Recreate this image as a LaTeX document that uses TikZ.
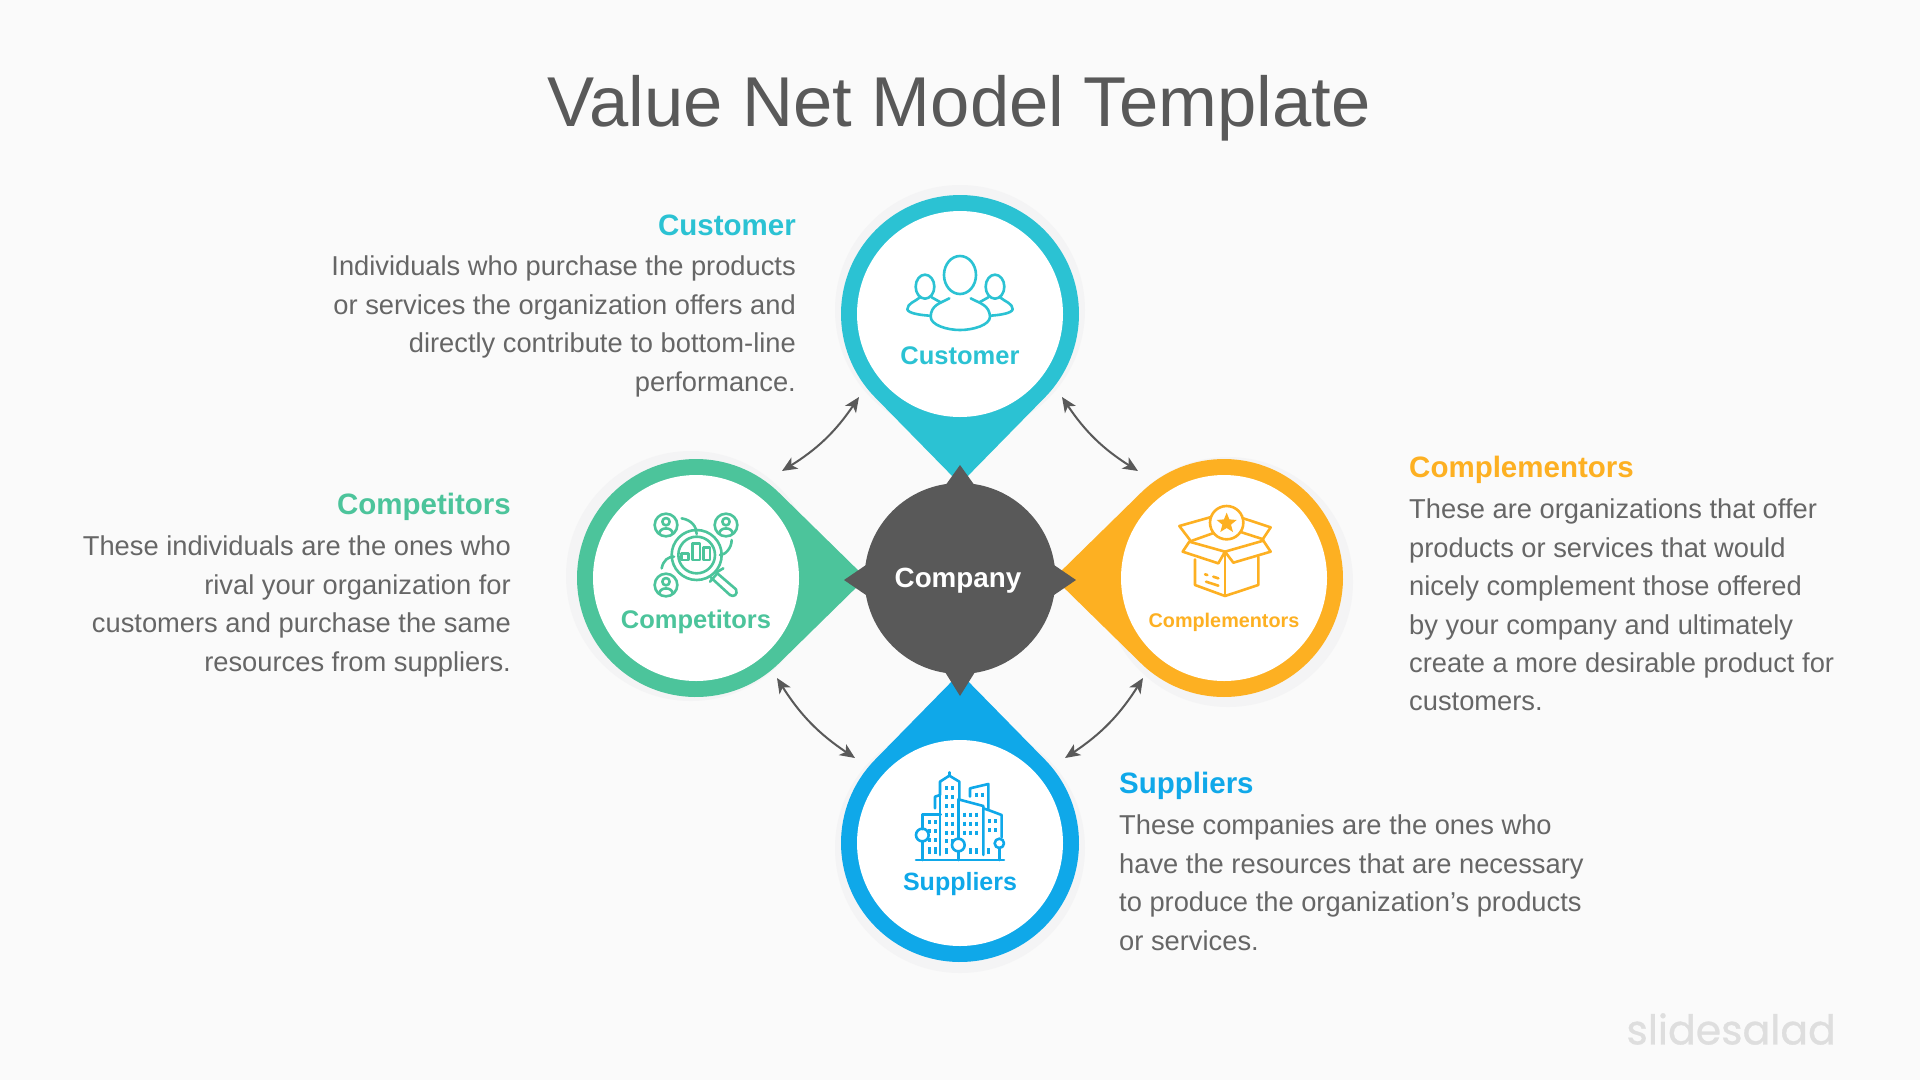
\documentclass[tikz,border=0pt]{standalone}
\usepackage{fontspec}
\setmainfont{Liberation Sans}
\newfontfamily\markfont[FakeBold=0.7]{Poppins}
\definecolor{bgc}{HTML}{FAFAFA}
\definecolor{shadowc}{HTML}{F4F4F5}
\definecolor{dark}{HTML}{595959}
\definecolor{bodyc}{HTML}{666666}
\definecolor{teal}{HTML}{2BC2D3}
\definecolor{greenc}{HTML}{4CC49B}
\definecolor{orangec}{HTML}{FDB022}
\definecolor{bluec}{HTML}{0FA8E9}
\definecolor{markc}{HTML}{DEDEDE}
\usetikzlibrary{arrows.meta}
\tikzset{
  inner/.style={circle,fill=white,minimum size=206pt,inner sep=0pt},
  pinlabel/.style={font=\bfseries\fontsize{#1}{#1}\selectfont,inner sep=0pt},
  heading/.style={font=\bfseries\fontsize{29.5}{32}\selectfont,inner sep=0pt},
  para/.style={font=\fontsize{27.3}{38.4}\selectfont,text=bodyc,inner sep=0pt},
  conn/.style={draw=dark,line width=2pt,{Stealth[length=15pt,width=13pt,inset=4pt]}-{Stealth[length=15pt,width=13pt,inset=4pt]}},
  ico/.style={line width=2.6pt,line cap=round,line join=round},
  zoomed/.style={shift={#1},x=0.33333pt,y=-0.33333pt},
}
% centre x, centre y, direction of tip (clockwise from right on screen), colour, shadow dx, shadow dy
\newcommand{\pinshape}[6]{%
  \fill[shadowc] (#1+#5,#2+#6) circle[radius=125];
  \begin{scope}[shift={(#1,#2)}]
    \fill[#4] (#3:170) -- (#3+45.6:119) arc[start angle=#3+45.6,delta angle=268.8,radius=119] -- cycle;
  \end{scope}}
\begin{document}
\begin{tikzpicture}[x=1pt,y=-1pt]
\useasboundingbox (0,0) rectangle (1920,1080);
\fill[bgc] (0,0) rectangle (1920,1080);

\node[inner sep=0pt,font=\fontsize{70.6}{72}\selectfont,text=dark] (title) at (959,108) {Value Net Model Template};

% pins
\pinshape{960}{314}{90}{teal}{0}{-4}
\pinshape{696}{578}{0}{greenc}{-5}{-2}
\pinshape{1224}{578}{180}{orangec}{4}{4}
\pinshape{960}{843}{270}{bluec}{0}{5}

\node[inner] (customer) at (960,314) {};
\node[inner] (competitors) at (696,578) {};
\node[inner] (complementors) at (1224,578) {};
\node[inner] (suppliers) at (960,843) {};

% company
\fill[dark] (960,465) -- (975,486) -- (1054,565) -- (1076,580) -- (1054,595) -- (975,672) -- (960,696)
  -- (945,672) -- (866,595) -- (844,580) -- (866,565) -- (945,486) -- cycle;
\node[circle,fill=dark,minimum size=191pt,inner sep=0pt] (company) at (960,578.5) {};
\node[inner sep=0pt,text=white,font=\bfseries\fontsize{27.8}{28}\selectfont] (lcompany) at (958,581) {Company};

% connectors
\coordinate (tlA) at (859,397); \coordinate (tlB) at (782,471);
\coordinate (trA) at (1062,397); \coordinate (trB) at (1138,471);
\coordinate (blA) at (777,678); \coordinate (blB) at (855,758);
\coordinate (brA) at (1143,678); \coordinate (brB) at (1065,758);
\draw[conn] (tlA) to[bend left=12] (tlB);
\draw[conn] (trA) to[bend right=12] (trB);
\draw[conn] (blA) to[bend right=12] (blB);
\draw[conn] (brA) to[bend left=12] (brB);

% pin labels
\node[pinlabel=25.5,text=teal] (lcust) at (960,356) {Customer};
\node[pinlabel=25.5,text=greenc] (lcomp) at (696,622) {Competitors};
\node[pinlabel=19.8,text=orangec] (lcompl) at (1224,622) {Complementors};
\node[pinlabel=25,text=bluec] (lsupp) at (960,884) {Suppliers};

% customer icon
\begin{scope}[zoomed={(820,170)},ico,draw=teal]
  \draw (420,315) ellipse[x radius=48,y radius=57];
  \draw (388,385) .. controls (360,400) and (333,405) .. (332,440) .. controls (332,465) and (380,480) .. (420,480) .. controls (460,480) and (510,465) .. (510,440) .. controls (508,405) and (480,400) .. (452,385);
  \draw (315,350) ellipse[x radius=28,y radius=36];
  \draw (525,350) ellipse[x radius=28,y radius=36];
  \draw (300,382) .. controls (285,395) and (262,400) .. (262,418) .. controls (265,430) and (300,435) .. (328,437);
  \draw (540,382) .. controls (555,395) and (578,400) .. (578,418) .. controls (575,430) and (540,435) .. (512,437);
  \draw (335,382) -- (362,397);
  \draw (505,382) -- (478,397);
\end{scope}

% competitors icon
\begin{scope}[zoomed={(560,440)},ico,draw=greenc]
  \foreach \ccx/\ccy in {318/255,498/255,318/435}{
    \draw (\ccx,\ccy) circle[radius=34];
    \draw (\ccx,\ccy-10) circle[radius=11];
    \draw (\ccx-20,\ccy+26) .. controls (\ccx-20,\ccy+5) and (\ccx+20,\ccy+5) .. (\ccx+20,\ccy+26);
  }
  \draw (410,345) circle[radius=75];
  \draw (410,345) circle[radius=55];
  \draw (365,360) rectangle (385,340);
  \draw (397,360) rectangle (420,310);
  \draw (430,360) rectangle (450,322);
  \draw (365,235) .. controls (395,240) and (410,260) .. (410,282);
  \draw (515,300) .. controls (515,325) and (495,345) .. (480,345);
  \draw (305,385) .. controls (310,360) and (325,350) .. (342,350);
  \draw (468,398) -- (490,385);
  \draw (450,425) -- (472,400) -- (528,448) .. controls (535,465) and (520,472) .. (510,465) -- (452,412);
\end{scope}

% complementors icon
\begin{scope}[zoomed={(1050,440)},ico,draw=orangec]
  \draw (530,248) circle[radius=50];
  \fill[orangec] (530,218) -- (538,238) -- (560,240) -- (543,254) -- (549,276) -- (530,264) -- (511,276) -- (517,254) -- (500,240) -- (522,238) -- cycle;
  \draw (435,358) -- (435,435) -- (525,468) -- (625,435) -- (625,350);
  \draw (525,335) -- (525,468);
  \draw (418,305) -- (525,335) -- (505,370) -- (398,335) -- cycle;
  \draw (525,335) -- (640,302) -- (662,335) -- (550,368) -- cycle;
  \draw (418,305) -- (488,280);
  \draw (388,258) -- (480,232);
  \draw (388,258) -- (420,300);
  \draw (640,298) -- (572,276);
  \draw (580,235) -- (662,262) -- (638,298);
  \draw (465,403) -- (472,405) (490,410) -- (505,415) (468,425) -- (505,437);
\end{scope}

% suppliers icon
\begin{scope}[zoomed={(820,680)},ico,draw=bluec]
  \draw (288,540) -- (552,540);
  \draw (307,447) -- (307,403) -- (362,403);
  \draw (307,484) -- (307,540);
  \draw (307,465) circle[radius=19];
  \draw (415,495) circle[radius=19];
  \draw (415,514) -- (415,540);
  \draw (538,490) circle[radius=14];
  \draw (538,504) -- (538,540);
  \draw (345,385) -- (345,350) -- (360,345) -- (360,305) -- (388,287) -- (418,305) -- (418,358);
  \draw (388,287) -- (388,277);
  \draw (360,345) -- (360,525);
  \draw (415,358) -- (490,378) -- (490,525);
  \draw (415,358) -- (415,474);
  \draw (450,350) -- (450,325) -- (505,312) -- (505,390) -- (545,405) -- (545,472);
  \draw (505,390) -- (490,385);
  \foreach \wx in {380,397}{\foreach \wy in {318,345,372,398,425,452,478}{\draw[line width=3pt,line cap=butt] (\wx,\wy) -- (\wx,\wy+12);}}
  \foreach \wx in {432,450,470}{\foreach \wy in {398,425,452}{\draw[line width=3pt,line cap=butt] (\wx,\wy) -- (\wx,\wy+12);}}
  \foreach \wx in {450,470}{\draw[line width=3pt,line cap=butt] (\wx,505) -- (\wx,522);}
  \foreach \wx in {508,526}{\foreach \wy in {418,445}{\draw[line width=3pt,line cap=butt] (\wx,\wy) -- (\wx,\wy+12);}}
  \foreach \wx in {328,345}{\foreach \wy in {420,447,475}{\draw[line width=3pt,line cap=butt] (\wx,\wy) -- (\wx,\wy+12);}}
  \foreach \wx in {328,345}{\draw[line width=3pt,line cap=butt] (\wx,502) -- (\wx,522);}
  \draw[line width=3pt,line cap=butt] (380,505) -- (380,522) (505,505) -- (505,522);
  \foreach \wx in {470,488}{\draw[line width=3pt,line cap=butt] (\wx,338) -- (\wx,352);}
\end{scope}

% side text
\node[heading,text=teal,anchor=east] (hcust) at (796,225) {Customer};
\node[para,anchor=north east,align=right] (pcust) at (796,256) {Individuals who purchase the products\\or services the organization offers and\\directly contribute to bottom-line\\performance.};

\node[heading,text=greenc,anchor=east] (hcomp) at (511,507) {Competitors};
\node[para,anchor=north east,align=right] (pcomp) at (511,536) {These individuals are the ones who\\rival your organization for\\customers and purchase the same\\resources from suppliers.};

\node[heading,text=orangec,anchor=west] (hcompl) at (1409,470) {Complementors};
\node[para,anchor=north west,align=left] (pcompl) at (1409,499) {These are organizations that offer\\products or services that would\\nicely complement those offered\\by your company and ultimately\\create a more desirable product for\\customers.};

\node[heading,text=bluec,anchor=west] (hsupp) at (1119,786) {Suppliers};
\node[para,anchor=north west,align=left] (psupp) at (1119,815) {These companies are the ones who\\have the resources that are necessary\\to produce the organization’s products\\or services.};

\node[inner sep=0pt,font=\markfont\fontsize{41}{45}\selectfont,text=markc,anchor=east] (mark) at (1836,1029) {slidesalad};
\end{tikzpicture}
\end{document}
